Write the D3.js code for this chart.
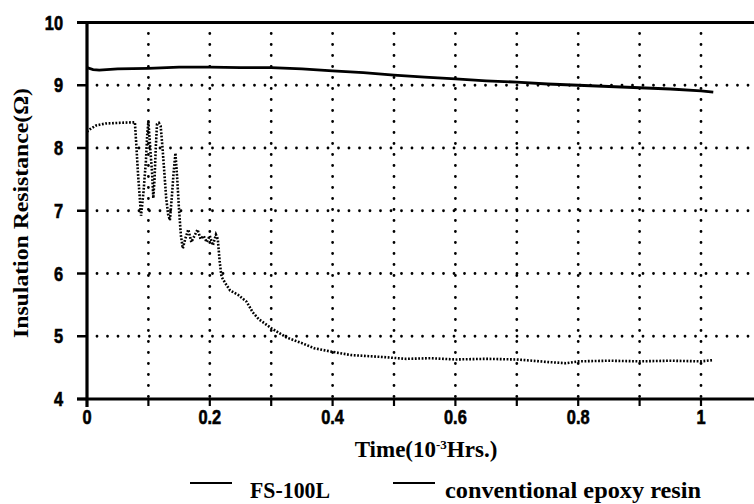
<!doctype html>
<head>
  <script src="https://cdnjs.cloudflare.com/ajax/libs/d3/7.8.5/d3.min.js"></script>
  <style>
    body { margin: 0; background: #fff; }
    svg { display: block; }
  </style>
</head>
<body>
  <svg id="chart" width="754" height="504"></svg>
  <script type="text/javascript">
    // FS-100L (solid line), time in 10^-3 hrs, resistance
    var fsTime = [0, 0.01, 0.02, 0.05, 0.1, 0.15, 0.2, 0.25, 0.3, 0.35, 0.4, 0.45, 0.5, 0.55, 0.6, 0.65, 0.7, 0.75, 0.8, 0.85, 0.9, 0.95, 1.0, 1.02]
    var fsValue = [9.28, 9.25, 9.24, 9.26, 9.27, 9.29, 9.29, 9.28, 9.28, 9.26, 9.23, 9.2, 9.16, 9.13, 9.1, 9.07, 9.05, 9.02, 9.0, 8.98, 8.96, 8.94, 8.91, 8.89]

    // conventional epoxy resin (dotted trace)
    var epTime = [0, 0.005, 0.015, 0.03, 0.05, 0.078, 0.08, 0.083, 0.086, 0.088, 0.092, 0.096, 0.098, 0.1, 0.103, 0.106, 0.108, 0.11, 0.112, 0.114, 0.117, 0.12, 0.123, 0.126, 0.129, 0.132, 0.135, 0.138, 0.141, 0.144, 0.147, 0.15, 0.153, 0.156, 0.16, 0.165, 0.17, 0.175, 0.18, 0.185, 0.19, 0.195, 0.2, 0.205, 0.21, 0.213, 0.216, 0.219, 0.225, 0.233, 0.246, 0.26, 0.27, 0.28, 0.3, 0.325, 0.35, 0.37, 0.395, 0.43, 0.48, 0.52, 0.56, 0.6, 0.65, 0.7, 0.75, 0.78, 0.8, 0.85, 0.9, 0.95, 1.0, 1.02]
    var epValue = [8.26, 8.3, 8.36, 8.39, 8.4, 8.41, 8.1, 7.6, 7.2, 6.92, 7.3, 7.8, 8.2, 8.42, 8.0, 7.6, 7.2, 7.5, 8.0, 8.38, 8.4, 8.35, 8.0, 7.6, 7.2, 6.95, 6.85, 7.2, 7.6, 7.92, 7.5, 7.0, 6.6, 6.4, 6.55, 6.7, 6.5, 6.6, 6.7, 6.55, 6.6, 6.5, 6.6, 6.45, 6.62, 6.55, 6.2, 5.95, 5.85, 5.73, 5.66, 5.55, 5.38, 5.27, 5.13, 4.98, 4.89, 4.81, 4.76, 4.7, 4.67, 4.64, 4.65, 4.63, 4.64, 4.63, 4.59, 4.57, 4.6, 4.61, 4.6, 4.61, 4.6, 4.62]

    var xTicks = [0, 0.2, 0.4, 0.6, 0.8, 1]
    var xMinor = [0.1, 0.2, 0.3, 0.4, 0.5, 0.6, 0.7, 0.8, 0.9, 1.0]
    var yTicks = [4, 5, 6, 7, 8, 9, 10]
    var yGrid = [5, 6, 7, 8, 9]
    var seriesNames = ["FS-100L", "conventional epoxy resin"]

    var svg = d3.select("#chart")
    var x = d3.scaleLinear().domain([0, 1.1]).range([87, 762.4])
    var y = d3.scaleLinear().domain([4, 10]).range([399, 22.5])

    var sans = "'Liberation Sans', Arial, sans-serif"
    var serif = "'Liberation Serif', 'DejaVu Serif', serif"

    // dotted grid
    svg.append("g").selectAll("line")
      .data(xMinor).enter().append("line")
      .attr("x1", d => x(d)).attr("x2", d => x(d))
      .attr("y1", y(10) + 11).attr("y2", y(4))
      .style("stroke", "#000").style("stroke-width", 2.8)
      .style("stroke-linecap", "round").style("stroke-dasharray", "0,11")

    svg.append("g").selectAll("line")
      .data(yGrid).enter().append("line")
      .attr("x1", x(0) + 10).attr("x2", 754)
      .attr("y1", d => y(d)).attr("y2", d => y(d))
      .style("stroke", "#000").style("stroke-width", 2.8)
      .style("stroke-linecap", "round").style("stroke-dasharray", "0,10.5")

    // frame lines
    svg.append("line").attr("x1", 77).attr("x2", 754).attr("y1", y(10)).attr("y2", y(10))
      .style("stroke", "#000").style("stroke-width", 3)
    svg.append("line").attr("x1", 77).attr("x2", 754).attr("y1", y(4)).attr("y2", y(4))
      .style("stroke", "#000").style("stroke-width", 3)
    svg.append("line").attr("x1", x(0)).attr("x2", x(0)).attr("y1", y(10)).attr("y2", y(4) + 8)
      .style("stroke", "#000").style("stroke-width", 3.2)

    // y ticks and labels (condensed heavy digits)
    var yAxis = svg.append("g")
    yAxis.selectAll("line").data(yTicks).enter().append("line")
      .attr("x1", 77).attr("x2", x(0)).attr("y1", d => y(d)).attr("y2", d => y(d))
      .style("stroke", "#000").style("stroke-width", 2.5)
    yAxis.selectAll("text").data(yTicks).enter().append("text")
      .attr("transform", d => "translate(63," + (y(d) + 7) + ") scale(0.82,1)")
      .attr("text-anchor", "end")
      .style("font-family", sans).style("font-weight", "bold").style("font-size", "20px")
      .style("stroke", "#000").style("stroke-width", 0.6)
      .text(d => d)

    // x ticks and labels
    var xAxis = svg.append("g")
    xAxis.selectAll("line").data(xMinor).enter().append("line")
      .attr("x1", d => x(d)).attr("x2", d => x(d)).attr("y1", y(4)).attr("y2", y(4) + 7)
      .style("stroke", "#000").style("stroke-width", 2.2)
    xAxis.selectAll("text").data(xTicks).enter().append("text")
      .attr("transform", d => "translate(" + x(d) + ",424) scale(0.82,1)")
      .attr("text-anchor", "middle")
      .style("font-family", sans).style("font-weight", "bold").style("font-size", "20px")
      .style("stroke", "#000").style("stroke-width", 0.6)
      .text(d => d)

    // series
    var line = d3.line().x(d => x(d[0])).y(d => y(d[1]))
    svg.append("path")
      .datum(epTime.map((t, i) => [t, epValue[i]]))
      .attr("d", line)
      .style("fill", "none").style("stroke", "#000").style("stroke-width", 2.6)
      .style("stroke-dasharray", "1.8,1.6")
    svg.append("path")
      .datum(fsTime.map((t, i) => [t, fsValue[i]]))
      .attr("d", line)
      .style("fill", "none").style("stroke", "#000").style("stroke-width", 2.8)

    // axis titles
    svg.append("text")
      .attr("transform", "translate(28,213) rotate(-90)")
      .attr("text-anchor", "middle")
      .attr("textLength", 250).attr("lengthAdjust", "spacingAndGlyphs")
      .style("font-family", serif).style("font-weight", "bold").style("font-size", "21px")
      .text("Insulation Resistance(Ω)")

    var xt = svg.append("text")
      .attr("x", 426).attr("y", 457)
      .attr("text-anchor", "middle")
      .style("font-family", serif).style("font-weight", "bold").style("font-size", "23px")
    xt.append("tspan").text("Time(10")
    xt.append("tspan").attr("dy", -8).style("font-size", "13px").text("-3")
    xt.append("tspan").attr("dy", 8).text("Hrs.)")

    // legend
    var legX = [190, 393]
    var legText = [250, 445]
    var legLen = [80, 256]
    var legG = svg.append("g")
    legG.selectAll("line").data(seriesNames).enter().append("line")
      .attr("x1", (d, i) => legX[i]).attr("x2", (d, i) => legX[i] + 42)
      .attr("y1", 483).attr("y2", 483)
      .style("stroke", "#000").style("stroke-width", 2)
    legG.selectAll("text").data(seriesNames).enter().append("text")
      .attr("x", (d, i) => legText[i]).attr("y", 498)
      .attr("textLength", (d, i) => legLen[i]).attr("lengthAdjust", "spacingAndGlyphs")
      .style("font-family", serif).style("font-weight", "bold").style("font-size", "23px")
      .text(d => d)
  </script>
</body>
</html>
